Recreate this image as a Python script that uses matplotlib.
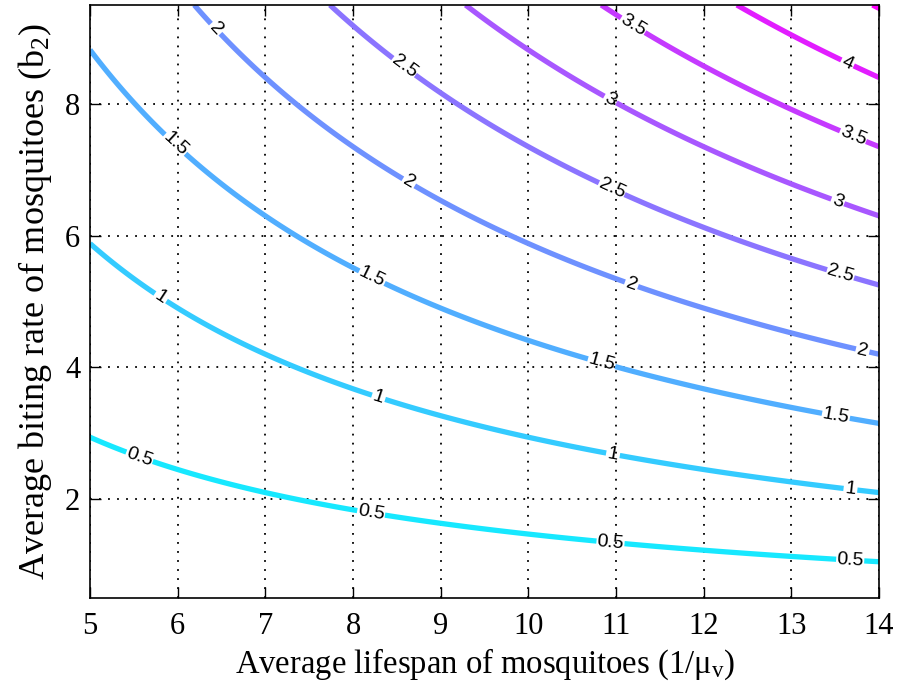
import numpy as np
import matplotlib
matplotlib.use("Agg")
import matplotlib.pyplot as plt
from matplotlib.colors import Normalize

plt.rcParams['font.family'] = ['Liberation Serif', 'DejaVu Serif']
plt.rcParams['mathtext.fontset'] = 'custom'
plt.rcParams['mathtext.rm'] = 'Liberation Serif'
plt.rcParams['mathtext.it'] = 'Liberation Serif:italic'

# Data
lifespan_range = [5, 14]          # 1/mu_v
biting_range = [0.5, 9.5]         # b_2
product_per_unit = 29.4           # b * L giving R = 1
levels = [0.5, 1.0, 1.5, 2.0, 2.5, 3.0, 3.5, 4.0, 4.5]
x_ticks = [5, 6, 7, 8, 9, 10, 11, 12, 13, 14]
y_ticks = [2, 4, 6, 8]
label_points = [
    (5.54, 2.55), (8.19, 1.66), (10.93, 1.24), (13.67, 1.04),
    (5.76, 4.97), (8.28, 3.5), (10.96, 2.64), (13.67, 2.1),
    (5.91, 7.3), (8.19, 5.3), (10.82, 4.0), (13.5, 3.2),
    (6.4, 9.1), (8.61, 6.75), (11.16, 5.2), (13.8, 4.18),
    (8.53, 8.47), (10.93, 6.65), (13.55, 5.37),
    (10.9, 7.98), (13.47, 6.3),
    (11.16, 9.12), (13.67, 7.4),
    (13.58, 8.45),
]

L = np.linspace(lifespan_range[0], lifespan_range[1], 300)
B = np.linspace(biting_range[0], biting_range[1], 300)
LL, BB = np.meshgrid(L, B)
R = LL * BB / product_per_unit

fig = plt.figure(figsize=(9.02, 6.98), dpi=100)
ax = fig.add_axes([0.0998, 0.1433, 0.8747, 0.8495])

cs = ax.contour(LL, BB, R, levels=levels, cmap='cool',
                norm=Normalize(vmin=0.1, vmax=4.5), linewidths=3.8)
labels = ax.clabel(cs, manual=label_points, inline=True, fmt='%g',
                   fontsize=14, colors='k', inline_spacing=2)
for t in labels:
    t.set_family('Liberation Sans')

ax.set_xlim(lifespan_range)
ax.set_ylim(biting_range)
ax.set_xticks(x_ticks)
ax.set_yticks(y_ticks)
ax.grid(True, color='k', linestyle=(0, (1, 4)), linewidth=1.3)
ax.tick_params(direction='in', length=8, width=1, top=True, right=True,
               labelsize=22)
ax.tick_params(axis='x', pad=10)
ax.tick_params(axis='y', pad=7)
for s in ax.spines.values():
    s.set_linewidth(1.2)

ax.set_xlabel('Average lifespan of mosquitoes (1/μ$_\\mathregular{v}$)',
              fontsize=23.5, labelpad=4)
ax.set_ylabel('Average biting rate of mosquitoes (b$_\\mathregular{2}$)',
              fontsize=26, labelpad=8)

fig.savefig('out.png', dpi=100)
